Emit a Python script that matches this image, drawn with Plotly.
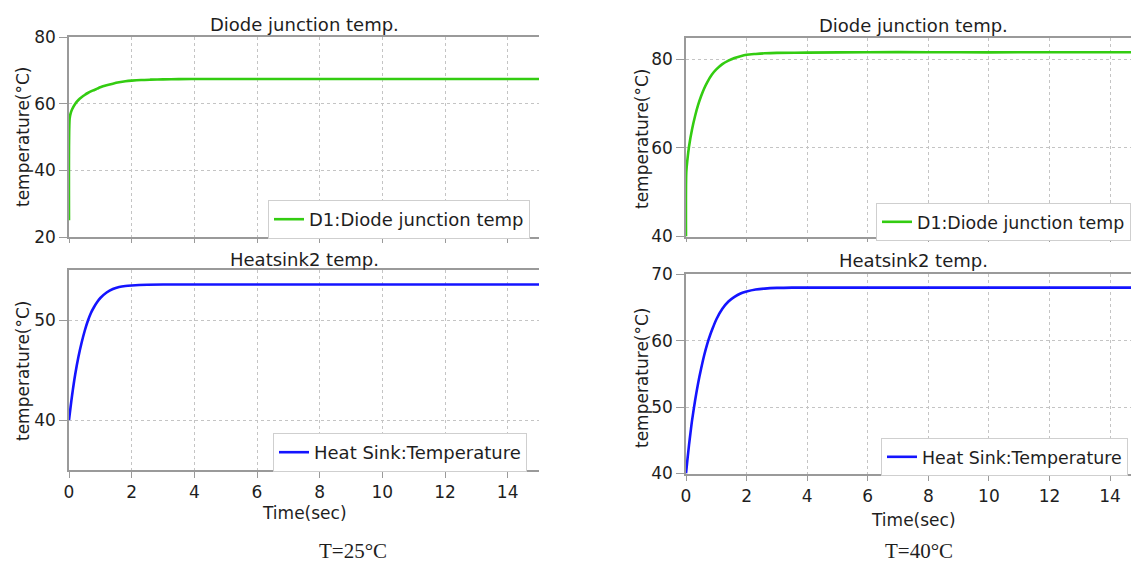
import plotly.graph_objects as go

W, H = 1131, 563

# ---- simulation readings: time (s) and temperature (°C) ----
t_diode_25 = [0, 0.02, 0.05, 0.1, 0.2, 0.3, 0.4, 0.5, 0.6, 0.75, 0.9, 1.0, 1.2, 1.4, 1.6, 1.8,
              2.0, 2.3, 2.6, 3.0, 3.5, 4.0, 6.0, 8.0, 10.0, 12.0, 15.0]
diode_25 = [25.0, 55.5, 57.0, 58.3, 60.0, 61.1, 61.9, 62.6, 63.2, 63.9, 64.5, 64.9, 65.5, 66.0, 66.4, 66.7,
            66.9, 67.1, 67.2, 67.3, 67.35, 67.4, 67.4, 67.4, 67.4, 67.4, 67.4]

t_sink_25 = [0, 0.05, 0.1, 0.15, 0.2, 0.3, 0.4, 0.5, 0.6, 0.7, 0.8, 0.9, 1.0, 1.2, 1.4, 1.6, 1.8,
             2.0, 2.5, 3.0, 4.0, 6.0, 8.0, 10.0, 12.0, 15.0]
sink_25 = [40.0, 41.3, 42.5, 43.6, 44.6, 46.3, 47.7, 48.9, 49.9, 50.7, 51.3, 51.8, 52.2, 52.75, 53.1, 53.3, 53.4,
           53.45, 53.52, 53.55, 53.55, 53.55, 53.55, 53.55, 53.55, 53.55]

t_diode_40 = [0, 0.01, 0.05, 0.1, 0.2, 0.3, 0.4, 0.5, 0.6, 0.7, 0.85, 1.0, 1.2, 1.4, 1.6, 1.8,
              2.0, 2.3, 2.6, 3.0, 4.0, 6.0, 8.0, 10.0, 12.0, 15.0]
diode_40 = [40.0, 54.5, 57.5, 60.3, 64.2, 67.2, 69.7, 71.7, 73.4, 74.8, 76.5, 77.7, 78.9, 79.7, 80.3, 80.7,
            81.0, 81.2, 81.35, 81.45, 81.5, 81.6, 81.6, 81.55, 81.6, 81.6]

t_sink_40 = [0, 0.05, 0.1, 0.15, 0.2, 0.3, 0.4, 0.5, 0.6, 0.7, 0.8, 0.9, 1.0, 1.2, 1.4, 1.6, 1.8,
             2.0, 2.3, 2.6, 3.0, 3.5, 4.0, 6.0, 8.0, 10.0, 12.0, 15.0]
sink_40 = [40.0, 42.2, 44.3, 46.2, 48.0, 51.0, 53.6, 55.8, 57.8, 59.5, 60.9, 62.1, 63.2, 64.8, 65.9, 66.6, 67.1,
           67.4, 67.7, 67.85, 67.95, 68.0, 68.0, 68.0, 68.0, 68.0, 68.0, 68.0]

# ---- labels ----
title_diode = "Diode junction temp."
title_sink = "Heatsink2 temp."
name_diode = "D1:Diode junction temp"
name_sink = "Heat Sink:Temperature"
y_label = "temperature(°C)"
x_label = "Time(sec)"
case_labels = ["T=25°C", "T=40°C"]

GREEN = "#33cc11"
BLUE = "#1414ff"
FONT = "DejaVu Sans"
TXT = "#1e1e1e"
AXC = "#9a9a9a"
GRID = "#c4c4c4"


def px_x(p):
    return p / W


def px_y(p):
    return 1 - p / H


fig = go.Figure()

line_kw = dict(width=2.6, shape="spline", smoothing=0.8)
fig.add_trace(go.Scatter(x=t_diode_25, y=diode_25, mode="lines", name=name_diode,
                         line=dict(color=GREEN, **line_kw),
                         xaxis="x", yaxis="y", legend="legend"))
fig.add_trace(go.Scatter(x=t_sink_25, y=sink_25, mode="lines", name=name_sink,
                         line=dict(color=BLUE, **line_kw),
                         xaxis="x2", yaxis="y2", legend="legend2"))
fig.add_trace(go.Scatter(x=t_diode_40, y=diode_40, mode="lines", name=name_diode,
                         line=dict(color=GREEN, **line_kw),
                         xaxis="x3", yaxis="y3", legend="legend3"))
fig.add_trace(go.Scatter(x=t_sink_40, y=sink_40, mode="lines", name=name_sink,
                         line=dict(color=BLUE, **line_kw),
                         xaxis="x4", yaxis="y4", legend="legend4"))

# panel geometry in pixels: (left, right), (top, bottom)
left_x = (69, 539)
right_x = (686, 1131)
panels = {
    "1": dict(x=left_x, y=(37, 237), yr=[20, 80], ydt=20, xr=[0, 15], labels=False),
    "2": dict(x=left_x, y=(270, 470), yr=[35, 55], ydt=10, xr=[0, 15], labels=True),
    "3": dict(x=right_x, y=(38, 236.5), yr=[40, 84.8], ydt=20, xr=[0, 14.69], labels=False),
    "4": dict(x=right_x, y=(274.3, 473.5), yr=[40, 70], ydt=10, xr=[0, 14.69], labels=True),
}

tickfont = dict(family=FONT, size=17, color=TXT)
layout_axes = {}
for k, p in panels.items():
    xs = "" if k == "1" else k
    layout_axes["xaxis" + xs] = dict(
        domain=[px_x(p["x"][0]), px_x(p["x"][1])], range=p["xr"], anchor="y" + xs,
        dtick=2, tick0=0, showgrid=True, gridcolor=GRID, griddash="dot", gridwidth=1,
        showline=True, linecolor=AXC, linewidth=1.5, mirror=True,
        ticks="outside", ticklen=6 if p["labels"] else 4, tickcolor=AXC,
        showticklabels=p["labels"], tickfont=tickfont, zeroline=False,
        automargin=False,
    )
    layout_axes["yaxis" + xs] = dict(
        domain=[px_y(p["y"][1]), px_y(p["y"][0])], range=p["yr"], anchor="x" + xs,
        dtick=p["ydt"], tick0=0, showgrid=True, gridcolor=GRID, griddash="dot", gridwidth=1,
        showline=True, linecolor=AXC, linewidth=1.5,
        ticks="outside", ticklen=8, tickcolor=AXC,
        tickfont=tickfont, zeroline=False, automargin=False,
    )


def legend_style(size):
    return dict(bgcolor="white", bordercolor="#cfcfcf", borderwidth=1,
                font=dict(family=FONT, size=size, color=TXT),
                xanchor="left", yanchor="top", itemclick=False)


annotations = []


def note(text, x, y, size, angle=0, family=FONT):
    annotations.append(dict(text=text, x=px_x(x), y=px_y(y), xref="paper", yref="paper",
                            showarrow=False, textangle=angle, xanchor="center", yanchor="middle",
                            font=dict(family=family, size=size, color=TXT)))


# panel titles
note(title_diode, 304, 24, 18)
note(title_sink, 304, 259, 18)
note(title_diode, 913, 25, 18)
note(title_sink, 913, 260, 18)
# y-axis titles
note(y_label, 23, 137, 17, -90)
note(y_label, 23, 371, 17, -90)
note(y_label, 642, 138, 17, -90)
note(y_label, 642, 377, 17, -90)
# x-axis titles
note(x_label, 304, 513, 17)
note(x_label, 913, 520, 17)
# case labels
note(case_labels[0], 353, 551, 21, family="Liberation Serif")
note(case_labels[1], 919, 551, 21, family="Liberation Serif")

fig.update_layout(
    width=W, height=H, margin=dict(l=0, r=0, t=0, b=0, autoexpand=False),
    paper_bgcolor="white", plot_bgcolor="white",
    showlegend=True,
    legend=dict(x=px_x(268), y=px_y(200), **legend_style(18)),
    legend2=dict(x=px_x(273), y=px_y(433), **legend_style(18)),
    legend3=dict(x=px_x(876), y=px_y(203), **legend_style(17.4)),
    legend4=dict(x=px_x(881), y=px_y(438), **legend_style(17.4)),
    annotations=annotations,
    **layout_axes,
)

fig.write_html("out.html")
